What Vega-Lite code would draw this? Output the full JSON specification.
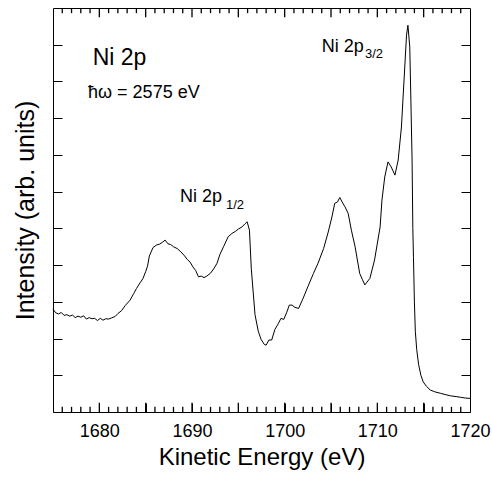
{
  "$schema": "https://vega.github.io/schema/vega-lite/v6.json",
  "width": 417,
  "height": 404,
  "autosize": "none",
  "padding": {"left": 53, "top": 8, "right": 22, "bottom": 68},
  "background": "white",
  "config": {
    "view": {"stroke": "black", "strokeWidth": 1},
    "axis": {
      "grid": false,
      "domain": false,
      "labelFont": "Liberation Sans",
      "titleFont": "Liberation Sans",
      "labelColor": "black",
      "titleColor": "black",
      "tickColor": "black",
      "tickWidth": 1,
      "titleFontWeight": "normal"
    },
    "text": {"font": "Liberation Sans", "color": "black", "align": "left", "baseline": "alphabetic"}
  },
  "datasets": {
    "spectrum": [
      {"E": 1675.0, "I": 2.80}, {"E": 1675.3, "I": 2.70}, {"E": 1675.6, "I": 2.67}, {"E": 1675.9, "I": 2.71},
      {"E": 1676.2, "I": 2.63}, {"E": 1676.5, "I": 2.65}, {"E": 1676.8, "I": 2.61}, {"E": 1677.1, "I": 2.64},
      {"E": 1677.4, "I": 2.57}, {"E": 1677.7, "I": 2.61}, {"E": 1678.0, "I": 2.58}, {"E": 1678.3, "I": 2.62},
      {"E": 1678.6, "I": 2.53}, {"E": 1678.9, "I": 2.57}, {"E": 1679.2, "I": 2.54}, {"E": 1679.5, "I": 2.55},
      {"E": 1679.8, "I": 2.49}, {"E": 1680.1, "I": 2.55}, {"E": 1680.4, "I": 2.50}, {"E": 1680.7, "I": 2.54},
      {"E": 1681.0, "I": 2.53}, {"E": 1681.3, "I": 2.56}, {"E": 1681.7, "I": 2.60}, {"E": 1682.0, "I": 2.68},
      {"E": 1682.4, "I": 2.76}, {"E": 1682.8, "I": 2.90}, {"E": 1683.3, "I": 3.04}, {"E": 1683.7, "I": 3.22},
      {"E": 1684.0, "I": 3.36}, {"E": 1684.4, "I": 3.52}, {"E": 1684.7, "I": 3.63}, {"E": 1685.0, "I": 3.82},
      {"E": 1685.2, "I": 3.97}, {"E": 1685.4, "I": 4.25}, {"E": 1685.8, "I": 4.48}, {"E": 1686.2, "I": 4.55},
      {"E": 1686.5, "I": 4.57}, {"E": 1686.8, "I": 4.62}, {"E": 1687.1, "I": 4.68}, {"E": 1687.4, "I": 4.58},
      {"E": 1687.7, "I": 4.56}, {"E": 1688.0, "I": 4.50}, {"E": 1688.4, "I": 4.45}, {"E": 1688.8, "I": 4.36},
      {"E": 1689.2, "I": 4.25}, {"E": 1689.5, "I": 4.15}, {"E": 1689.8, "I": 4.08}, {"E": 1690.1, "I": 3.95},
      {"E": 1690.4, "I": 3.85}, {"E": 1690.7, "I": 3.68}, {"E": 1691.0, "I": 3.70}, {"E": 1691.3, "I": 3.66},
      {"E": 1691.6, "I": 3.70}, {"E": 1692.0, "I": 3.78}, {"E": 1692.4, "I": 3.92}, {"E": 1692.7, "I": 4.05},
      {"E": 1693.0, "I": 4.28}, {"E": 1693.4, "I": 4.50}, {"E": 1693.9, "I": 4.77}, {"E": 1694.3, "I": 4.86},
      {"E": 1694.7, "I": 4.92}, {"E": 1695.0, "I": 4.98}, {"E": 1695.4, "I": 5.04}, {"E": 1695.7, "I": 5.12},
      {"E": 1695.95, "I": 5.18}, {"E": 1696.2, "I": 4.95}, {"E": 1696.4, "I": 3.90}, {"E": 1696.8, "I": 2.65},
      {"E": 1697.15, "I": 2.20}, {"E": 1697.45, "I": 1.98}, {"E": 1697.8, "I": 1.84}, {"E": 1698.0, "I": 1.82},
      {"E": 1698.3, "I": 1.96}, {"E": 1698.6, "I": 1.96}, {"E": 1698.95, "I": 2.25}, {"E": 1699.3, "I": 2.40},
      {"E": 1699.6, "I": 2.55}, {"E": 1699.9, "I": 2.52}, {"E": 1700.2, "I": 2.70}, {"E": 1700.5, "I": 2.91},
      {"E": 1700.8, "I": 2.91}, {"E": 1701.1, "I": 2.85}, {"E": 1701.5, "I": 2.82}, {"E": 1702.0, "I": 3.10},
      {"E": 1702.5, "I": 3.41}, {"E": 1703.1, "I": 3.77}, {"E": 1703.6, "I": 4.05}, {"E": 1704.2, "I": 4.45},
      {"E": 1704.7, "I": 4.90}, {"E": 1705.1, "I": 5.31}, {"E": 1705.4, "I": 5.68}, {"E": 1705.7, "I": 5.72},
      {"E": 1705.95, "I": 5.84}, {"E": 1706.2, "I": 5.72}, {"E": 1706.5, "I": 5.59}, {"E": 1706.85, "I": 5.41},
      {"E": 1707.2, "I": 4.95}, {"E": 1707.6, "I": 4.50}, {"E": 1708.1, "I": 3.77}, {"E": 1708.4, "I": 3.60},
      {"E": 1708.65, "I": 3.46}, {"E": 1709.2, "I": 3.64}, {"E": 1709.7, "I": 4.14}, {"E": 1710.3, "I": 5.04},
      {"E": 1710.5, "I": 5.77}, {"E": 1710.8, "I": 6.40}, {"E": 1711.15, "I": 6.81}, {"E": 1711.5, "I": 6.67},
      {"E": 1711.9, "I": 6.45}, {"E": 1712.25, "I": 6.86}, {"E": 1712.6, "I": 7.76}, {"E": 1712.9, "I": 9.12},
      {"E": 1713.15, "I": 10.26}, {"E": 1713.3, "I": 10.53}, {"E": 1713.5, "I": 9.94}, {"E": 1713.62, "I": 8.49},
      {"E": 1713.75, "I": 6.86}, {"E": 1713.83, "I": 5.00}, {"E": 1713.9, "I": 4.20}, {"E": 1714.0, "I": 3.00},
      {"E": 1714.1, "I": 2.20}, {"E": 1714.25, "I": 1.70}, {"E": 1714.45, "I": 1.30}, {"E": 1714.7, "I": 1.00},
      {"E": 1714.95, "I": 0.82}, {"E": 1715.3, "I": 0.70}, {"E": 1715.7, "I": 0.60}, {"E": 1716.2, "I": 0.55},
      {"E": 1716.8, "I": 0.51}, {"E": 1717.4, "I": 0.47}, {"E": 1717.9, "I": 0.44}, {"E": 1718.5, "I": 0.42},
      {"E": 1719.0, "I": 0.40}, {"E": 1719.5, "I": 0.38}, {"E": 1720.0, "I": 0.37}
    ],
    "frameTicks": [
      {"E": 1676, "edge": 0, "inner": 0.14}, {"E": 1677, "edge": 0, "inner": 0.14}, {"E": 1678, "edge": 0, "inner": 0.14}, {"E": 1679, "edge": 0, "inner": 0.14},
      {"E": 1680, "edge": 0, "inner": 0.25}, {"E": 1681, "edge": 0, "inner": 0.14}, {"E": 1682, "edge": 0, "inner": 0.14}, {"E": 1683, "edge": 0, "inner": 0.14},
      {"E": 1684, "edge": 0, "inner": 0.14}, {"E": 1685, "edge": 0, "inner": 0.25}, {"E": 1686, "edge": 0, "inner": 0.14}, {"E": 1687, "edge": 0, "inner": 0.14},
      {"E": 1688, "edge": 0, "inner": 0.14}, {"E": 1689, "edge": 0, "inner": 0.14}, {"E": 1690, "edge": 0, "inner": 0.25}, {"E": 1691, "edge": 0, "inner": 0.14},
      {"E": 1692, "edge": 0, "inner": 0.14}, {"E": 1693, "edge": 0, "inner": 0.14}, {"E": 1694, "edge": 0, "inner": 0.14}, {"E": 1695, "edge": 0, "inner": 0.25},
      {"E": 1696, "edge": 0, "inner": 0.14}, {"E": 1697, "edge": 0, "inner": 0.14}, {"E": 1698, "edge": 0, "inner": 0.14}, {"E": 1699, "edge": 0, "inner": 0.14},
      {"E": 1700, "edge": 0, "inner": 0.25}, {"E": 1701, "edge": 0, "inner": 0.14}, {"E": 1702, "edge": 0, "inner": 0.14}, {"E": 1703, "edge": 0, "inner": 0.14},
      {"E": 1704, "edge": 0, "inner": 0.14}, {"E": 1705, "edge": 0, "inner": 0.25}, {"E": 1706, "edge": 0, "inner": 0.14}, {"E": 1707, "edge": 0, "inner": 0.14},
      {"E": 1708, "edge": 0, "inner": 0.14}, {"E": 1709, "edge": 0, "inner": 0.14}, {"E": 1710, "edge": 0, "inner": 0.25}, {"E": 1711, "edge": 0, "inner": 0.14},
      {"E": 1712, "edge": 0, "inner": 0.14}, {"E": 1713, "edge": 0, "inner": 0.14}, {"E": 1714, "edge": 0, "inner": 0.14}, {"E": 1715, "edge": 0, "inner": 0.25},
      {"E": 1716, "edge": 0, "inner": 0.14}, {"E": 1717, "edge": 0, "inner": 0.14}, {"E": 1718, "edge": 0, "inner": 0.14}, {"E": 1719, "edge": 0, "inner": 0.14},
      {"E": 1676, "edge": 11, "inner": 10.86}, {"E": 1677, "edge": 11, "inner": 10.86}, {"E": 1678, "edge": 11, "inner": 10.86}, {"E": 1679, "edge": 11, "inner": 10.86},
      {"E": 1680, "edge": 11, "inner": 10.75}, {"E": 1681, "edge": 11, "inner": 10.86}, {"E": 1682, "edge": 11, "inner": 10.86}, {"E": 1683, "edge": 11, "inner": 10.86},
      {"E": 1684, "edge": 11, "inner": 10.86}, {"E": 1685, "edge": 11, "inner": 10.75}, {"E": 1686, "edge": 11, "inner": 10.86}, {"E": 1687, "edge": 11, "inner": 10.86},
      {"E": 1688, "edge": 11, "inner": 10.86}, {"E": 1689, "edge": 11, "inner": 10.86}, {"E": 1690, "edge": 11, "inner": 10.75}, {"E": 1691, "edge": 11, "inner": 10.86},
      {"E": 1692, "edge": 11, "inner": 10.86}, {"E": 1693, "edge": 11, "inner": 10.86}, {"E": 1694, "edge": 11, "inner": 10.86}, {"E": 1695, "edge": 11, "inner": 10.75},
      {"E": 1696, "edge": 11, "inner": 10.86}, {"E": 1697, "edge": 11, "inner": 10.86}, {"E": 1698, "edge": 11, "inner": 10.86}, {"E": 1699, "edge": 11, "inner": 10.86},
      {"E": 1700, "edge": 11, "inner": 10.75}, {"E": 1701, "edge": 11, "inner": 10.86}, {"E": 1702, "edge": 11, "inner": 10.86}, {"E": 1703, "edge": 11, "inner": 10.86},
      {"E": 1704, "edge": 11, "inner": 10.86}, {"E": 1705, "edge": 11, "inner": 10.75}, {"E": 1706, "edge": 11, "inner": 10.86}, {"E": 1707, "edge": 11, "inner": 10.86},
      {"E": 1708, "edge": 11, "inner": 10.86}, {"E": 1709, "edge": 11, "inner": 10.86}, {"E": 1710, "edge": 11, "inner": 10.75}, {"E": 1711, "edge": 11, "inner": 10.86},
      {"E": 1712, "edge": 11, "inner": 10.86}, {"E": 1713, "edge": 11, "inner": 10.86}, {"E": 1714, "edge": 11, "inner": 10.86}, {"E": 1715, "edge": 11, "inner": 10.75},
      {"E": 1716, "edge": 11, "inner": 10.86}, {"E": 1717, "edge": 11, "inner": 10.86}, {"E": 1718, "edge": 11, "inner": 10.86}, {"E": 1719, "edge": 11, "inner": 10.86}
    ],
    "heading": [{"E": 1679.28, "I": 9.44, "label": "Ni 2p"}],
    "photon": [{"E": 1678.78, "I": 8.54, "label": "ħω = 2575 eV"}],
    "peaks": [
      {"E": 1688.7, "I": 5.72, "label": "Ni 2p"},
      {"E": 1703.99, "I": 9.80, "label": "Ni 2p"}
    ],
    "subscripts": [
      {"E": 1693.66, "I": 5.54, "label": "1/2"},
      {"E": 1708.66, "I": 9.65, "label": "3/2"}
    ]
  },
  "resolve": {"axis": {"y": "independent"}},
  "layer": [
    {
      "data": {"name": "frameTicks"},
      "mark": {"type": "rule", "color": "#000000", "strokeWidth": 1.3, "opacity": 1, "clip": false},
      "encoding": {
        "x": {"field": "E", "type": "quantitative",
          "scale": {"domain": [1675, 1720], "nice": false, "zero": false},
          "axis": {
            "orient": "bottom",
            "values": [1675, 1680, 1685, 1690, 1695, 1700, 1705, 1710, 1715, 1720],
            "labelExpr": "datum.value % 10 === 0 ? datum.label : ''",
            "format": "d", "tickSize": -9,
            "labelFontSize": 18, "labelPadding": 33, "labelBaseline": "alphabetic",
            "labelFlush": false,
            "title": "Kinetic Energy (eV)", "titleFontSize": 24,
            "titleX": 208.5, "titleY": 52, "titleBaseline": "alphabetic"
          }
        },
        "y": {"field": "edge", "type": "quantitative",
          "scale": {"domain": [0, 11], "nice": false, "zero": false},
          "axis": {"orient": "right", "values": [1, 2, 3, 4, 5, 6, 7, 8, 9, 10],
            "labels": false, "tickSize": -9, "title": null}},
        "y2": {"field": "inner"}
      }
    },
    {
      "data": {"name": "spectrum"},
      "mark": {"type": "line", "color": "black", "strokeWidth": 1, "interpolate": "linear"},
      "encoding": {
        "x": {"field": "E", "type": "quantitative"},
        "y": {
          "field": "I", "type": "quantitative",
          "axis": {
            "orient": "left", "values": [1, 2, 3, 4, 5, 6, 7, 8, 9, 10],
            "labels": false, "tickSize": -9,
            "title": "Intensity (arb. units)", "titleFontSize": 25, "titleAngle": -90,
            "titleX": -20, "titleY": 202, "titleBaseline": "alphabetic"
          }
        }
      }
    },
    {
      "data": {"name": "heading"},
      "mark": {"type": "text", "fontSize": 23},
      "encoding": {
        "x": {"field": "E", "type": "quantitative"},
        "y": {"field": "I", "type": "quantitative", "axis": null},
        "text": {"field": "label"}
      }
    },
    {
      "data": {"name": "photon"},
      "mark": {"type": "text", "fontSize": 18},
      "encoding": {
        "x": {"field": "E", "type": "quantitative"},
        "y": {"field": "I", "type": "quantitative", "axis": null},
        "text": {"field": "label"}
      }
    },
    {
      "data": {"name": "peaks"},
      "mark": {"type": "text", "fontSize": 18},
      "encoding": {
        "x": {"field": "E", "type": "quantitative"},
        "y": {"field": "I", "type": "quantitative", "axis": null},
        "text": {"field": "label"}
      }
    },
    {
      "data": {"name": "subscripts"},
      "mark": {"type": "text", "fontSize": 13},
      "encoding": {
        "x": {"field": "E", "type": "quantitative"},
        "y": {"field": "I", "type": "quantitative", "axis": null},
        "text": {"field": "label"}
      }
    }
  ]
}
